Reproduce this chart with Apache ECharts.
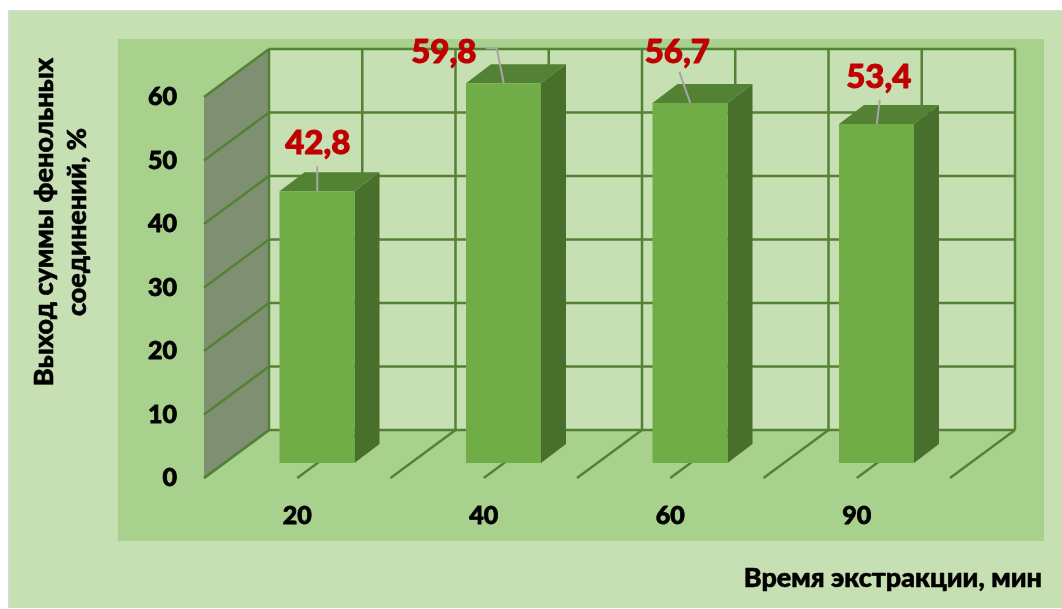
<!DOCTYPE html>
<html><head><meta charset="utf-8">
<style>html,body{margin:0;padding:0;background:#fff}#c{width:1062px;height:609px}</style>
<script src="https://cdn.jsdelivr.net/npm/echarts@6/dist/echarts.min.js"></script>
</head><body><div id="c"></div>
<script>
const categories = ['20', '40', '60', '90'];
const values = [42.8, 59.8, 56.7, 53.4];
const valueLabels = ['42,8', '59,8', '56,7', '53,4'];
const yTicks = [0, 10, 20, 30, 40, 50, 60];
const yTitle = 'Выход суммы фенольных\nсоединений, %';
const xTitle = 'Время экстракции, мин';

const FONT = 'Lato, "Open Sans", "Noto Sans", sans-serif';
const DEPTH = [65, -48], BAR_SHIFT = [20, -15], BAR_DEPTH = [25, -19], BAR_W = 75;
const LINE = '#548235';
// label centre and leader polyline, relative to the bar's top-front-centre
const labelOff = [[0.5, -48], [-60, -31], [-13, -51], [2, -47]];
const leaders = [
  [[0, 0], [0, -25]],
  [[0, 0], [-7, -35], [-18, -35]],
  [[0, 0], [-11, -31]],
  [[0, 0], [3, -24]]
];

function renderWalls(params, api) {
  const band = api.size([1, 0])[0];
  const x0 = api.coord([0, 0])[0] - band / 2;
  const x1 = x0 + band * categories.length;
  const y0 = api.coord([0, 0])[1];
  const yTop = api.coord([0, yTicks[yTicks.length - 1]])[1];
  const [dx, dy] = DEPTH;
  const kids = [];
  const ln = 'line';
  const stroke = { stroke: LINE, lineWidth: 2.5 };
  kids.push({ type: 'polygon', shape: { points: [[x0 + dx, y0 + dy], [x1 + dx, y0 + dy], [x1 + dx, yTop + dy], [x0 + dx, yTop + dy]] }, style: { fill: '#c6e0b4' } });
  kids.push({ type: 'polygon', shape: { points: [[x0, y0], [x0 + dx, y0 + dy], [x0 + dx, yTop + dy], [x0, yTop]] }, style: { fill: '#7f8f72' } });
  yTicks.forEach(t => {
    const y = api.coord([0, t])[1];
    kids.push({ type: ln, shape: { x1: x0, y1: y, x2: x0 + dx, y2: y + dy }, style: stroke });
    kids.push({ type: ln, shape: { x1: x0 + dx, y1: y + dy, x2: x1 + dx, y2: y + dy }, style: stroke });
  });
  for (let i = 0; i <= categories.length * 2; i++) {
    const x = x0 + i * band / 2;
    kids.push({ type: ln, shape: { x1: x, y1: y0, x2: x + dx, y2: y0 + dy }, style: stroke });
    kids.push({ type: ln, shape: { x1: x + dx, y1: y0 + dy, x2: x + dx, y2: yTop + dy }, style: stroke });
  }
  return { type: 'group', children: kids };
}

function renderBar(params, api) {
  const idx = api.value(0), v = api.value(1);
  const base = api.coord([idx, 0]), top = api.coord([idx, v]);
  const l = base[0] + BAR_SHIFT[0] - BAR_W / 2 - 0.25, r = l + BAR_W;
  const b = base[1] + BAR_SHIFT[1], t = top[1] + BAR_SHIFT[1];
  const [dx, dy] = BAR_DEPTH;
  return { type: 'group', children: [
    { type: 'polygon', shape: { points: [[r, b], [r + dx, b + dy], [r + dx, t + dy], [r, t]] }, style: { fill: '#486f2b' } },
    { type: 'polygon', shape: { points: [[l, t], [r, t], [r + dx, t + dy], [l + dx, t + dy]] }, style: { fill: '#548235' } },
    { type: 'rect', shape: { x: l, y: t, width: BAR_W, height: b - t }, style: { fill: '#70ad47' } }
  ]};
}

function renderLabel(params, api) {
  const idx = api.value(0), v = api.value(1);
  const base = api.coord([idx, 0]), top = api.coord([idx, v]);
  const cx = base[0] + BAR_SHIFT[0], t = top[1] + BAR_SHIFT[1];
  const off = labelOff[params.dataIndex];
  return { type: 'group', children: [
    { type: 'polyline', shape: { points: leaders[params.dataIndex].map(p => [cx + p[0], t + p[1]]) }, style: { stroke: '#a6a6a6', lineWidth: 2, fill: null } },
    { type: 'text', style: { x: cx + off[0], y: t + off[1], text: valueLabels[params.dataIndex], fill: '#c00000', font: '900 33px ' + FONT, textAlign: 'center', textVerticalAlign: 'middle', stroke: '#c00000', lineWidth: 1 } }
  ]};
}

const barData = values.map((v, i) => [i, v]);
const chart = echarts.init(document.getElementById('c'), null, { renderer: 'canvas' });
chart.setOption({
  animation: false,
  backgroundColor: '#ffffff',
  grid: { left: 204, right: 112, top: 97, bottom: 131, containLabel: false },
  xAxis: { type: 'category', data: categories, axisLine: { show: false }, axisTick: { show: false }, splitLine: { show: false },
    axisLabel: { color: '#000', fontFamily: FONT, fontWeight: 900, fontSize: 25, margin: 25, textBorderColor: '#000', textBorderWidth: 0.8 } },
  yAxis: { type: 'value', min: 0, max: 60, interval: 10, axisLine: { show: false }, axisTick: { show: false }, splitLine: { show: false },
    axisLabel: { color: '#000', fontFamily: FONT, fontWeight: 900, fontSize: 25, margin: 27, padding: [7, 0, 0, 0], textBorderColor: '#000', textBorderWidth: 0.8 } },
  graphic: [
    { type: 'rect', z: -10, silent: true, shape: { x: 8, y: 10, width: 1054, height: 598 }, style: { fill: '#d9d9d9' } },
    { type: 'rect', z: -9, silent: true, shape: { x: 9, y: 11, width: 1053, height: 597 }, style: { fill: '#c6e0b4' } },
    { type: 'rect', z: -8, silent: true, shape: { x: 118, y: 39, width: 926, height: 502 }, style: { fill: '#a9d18e' } },
    { type: 'text', z: 20, silent: true, x: 61, y: 222, rotation: Math.PI / 2, style: { text: yTitle, fill: '#000', font: '900 27px ' + FONT, textAlign: 'center', textVerticalAlign: 'middle', lineHeight: 33, stroke: '#000', lineWidth: 0.6 } },
    { type: 'text', z: 20, silent: true, x: 1042, y: 578, style: { text: xTitle, fill: '#000', font: '900 27px ' + FONT, textAlign: 'right', textVerticalAlign: 'middle', stroke: '#000', lineWidth: 0.6 } }
  ],
  series: [
    { type: 'custom', z: 1, silent: true, clip: false, renderItem: renderWalls, data: [[0, 0]], encode: { x: 0, y: 1 } },
    { type: 'custom', z: 2, silent: true, clip: false, renderItem: renderBar, data: barData, encode: { x: 0, y: 1 } },
    { type: 'custom', z: 3, silent: true, clip: false, renderItem: renderLabel, data: barData, encode: { x: 0, y: 1 } }
  ]
});
</script></body></html>
